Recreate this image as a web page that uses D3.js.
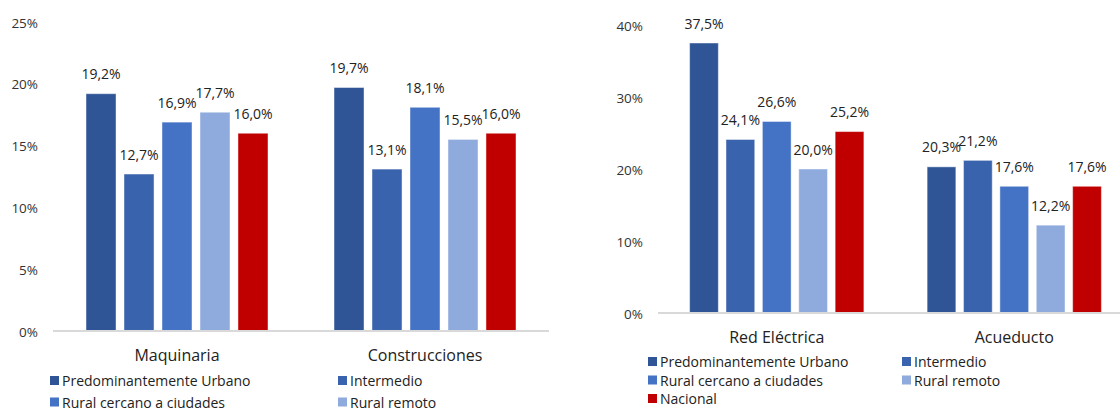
<!DOCTYPE html>
<html>
<head>
<meta charset="utf-8">
<script src="https://cdn.jsdelivr.net/npm/d3@7"></script>
<style>
  html, body { margin: 0; padding: 0; background: #fff; }
  svg { display: block; font-family: "Open Sans", "Noto Sans", sans-serif; }
</style>
</head>
<body>
<svg id="chart" width="1120" height="412"></svg>
<script>
// ---- Data ----
const series = ["Predominantemente Urbano", "Intermedio", "Rural cercano a ciudades", "Rural remoto", "Nacional"];
const seriesColors = ["#2F5597", "#3A63AD", "#4472C4", "#8FAADC", "#C00000"];

const categoriesLeft = ["Maquinaria", "Construcciones"];
const urbanoLeft = [19.2, 19.7];
const intermedioLeft = [12.7, 13.1];
const ruralCercanoLeft = [16.9, 18.1];
const ruralRemotoLeft = [17.7, 15.5];
const nacionalLeft = [16.0, 16.0];
const ticksLeft = [0, 5, 10, 15, 20, 25];

const categoriesRight = ["Red Eléctrica", "Acueducto"];
const urbanoRight = [37.5, 20.3];
const intermedioRight = [24.1, 21.2];
const ruralCercanoRight = [26.6, 17.6];
const ruralRemotoRight = [20.0, 12.2];
const nacionalRight = [25.2, 17.6];
const ticksRight = [0, 10, 20, 30, 40];

const valuesLeft = [urbanoLeft, intermedioLeft, ruralCercanoLeft, ruralRemotoLeft, nacionalLeft];
const valuesRight = [urbanoRight, intermedioRight, ruralCercanoRight, ruralRemotoRight, nacionalRight];

const locale = d3.formatLocale({decimal: ",", thousands: ".", grouping: [3], currency: ["", ""]});
const fmtVal = v => locale.format(".1f")(v) + "%";
const fmtTick = v => locale.format("d")(v) + "%";

const svg = d3.select("#chart");

function drawChart(cfg) {
  const g = svg.append("g");
  const y = d3.scaleLinear().domain([0, cfg.max]).range([cfg.yBottom, cfg.yTop]);
  const x0 = d3.scaleBand().domain(cfg.categories).range([cfg.xLeft, cfg.xRight])
    .paddingInner(0.234).paddingOuter(0.117);
  const x1 = d3.scaleBand().domain(series).range([0, x0.bandwidth()])
    .paddingInner(0.21).paddingOuter(0.105);

  // y axis labels
  const yAxis = d3.axisLeft(y).tickValues(cfg.ticks).tickSize(0).tickPadding(0).tickFormat(fmtTick);
  const ya = g.append("g").attr("transform", `translate(${cfg.tickX},0)`).call(yAxis);
  ya.select(".domain").remove();
  ya.selectAll("text")
    .attr("font-family", "Open Sans, sans-serif")
    .attr("font-size", 13.5)
    .attr("fill", "#333")
    .attr("dy", null)
    .attr("dominant-baseline", "central");

  // bars
  const groups = g.selectAll(".grp").data(cfg.categories).enter().append("g")
    .attr("transform", d => `translate(${x0(d)},0)`);
  groups.each(function(cat, ci) {
    const gg = d3.select(this);
    const rows = series.map((s, si) => ({s, si, v: cfg.values[si][ci]}));
    gg.selectAll("rect").data(rows).enter().append("rect")
      .attr("x", d => x1(d.s))
      .attr("y", d => y(d.v))
      .attr("width", x1.bandwidth())
      .attr("height", d => y(0) - y(d.v))
      .attr("fill", d => seriesColors[d.si])
      .attr("stroke", "#fff")
      .attr("stroke-opacity", 0.45)
      .attr("stroke-width", 1);
    gg.selectAll("text.val").data(rows).enter().append("text")
      .attr("class", "val")
      .attr("x", d => x1(d.s) + x1.bandwidth() / 2)
      .attr("y", d => y(d.v) - 20)
      .attr("text-anchor", "middle")
      .attr("dominant-baseline", "central")
      .attr("font-size", 14)
      .attr("fill", "#222")
      .text(d => fmtVal(d.v));
  });

  // baseline axis
  const xAxis = d3.axisBottom(x0).tickSize(0).tickPadding(0);
  const xa = g.append("g").attr("transform", `translate(0,${y(0)})`).call(xAxis);
  xa.select(".domain").attr("stroke", "#d9d9d9").attr("stroke-width", 2)
    .attr("d", `M${cfg.xLeft},0H${cfg.xRight}`);
  xa.selectAll("text")
    .attr("font-family", "Open Sans, sans-serif")
    .attr("font-size", 16)
    .attr("fill", "#222")
    .attr("dy", null)
    .attr("y", cfg.catY - y(0))
    .attr("dominant-baseline", "central");

  // legend
  const items = series.slice(0, cfg.legendCount);
  const lg = g.selectAll(".leg").data(items).enter().append("g")
    .attr("transform", (d, i) => `translate(${cfg.legCols[i % 2]},${cfg.legRows[Math.floor(i / 2)]})`);
  lg.append("rect").attr("x", 0).attr("y", -4.5).attr("width", 9).attr("height", 9)
    .attr("fill", d => seriesColors[series.indexOf(d)]);
  lg.append("text").attr("x", 12).attr("y", 0)
    .attr("dominant-baseline", "central")
    .attr("font-size", 14).attr("fill", "#222").text(d => d);
}

drawChart({
  categories: categoriesLeft, values: valuesLeft, ticks: ticksLeft, max: 25,
  yBottom: 331, yTop: 22, xLeft: 53, xRight: 549, tickX: 38, catY: 355,
  legendCount: 4, legCols: [50, 338], legRows: [380.5, 402]
});
drawChart({
  categories: categoriesRight, values: valuesRight, ticks: ticksRight, max: 40,
  yBottom: 313, yTop: 25, xLeft: 658, xRight: 1133, tickX: 643, catY: 336.5,
  legendCount: 5, legCols: [648, 902], legRows: [361.5, 380, 398.5]
});
</script>
</body>
</html>
